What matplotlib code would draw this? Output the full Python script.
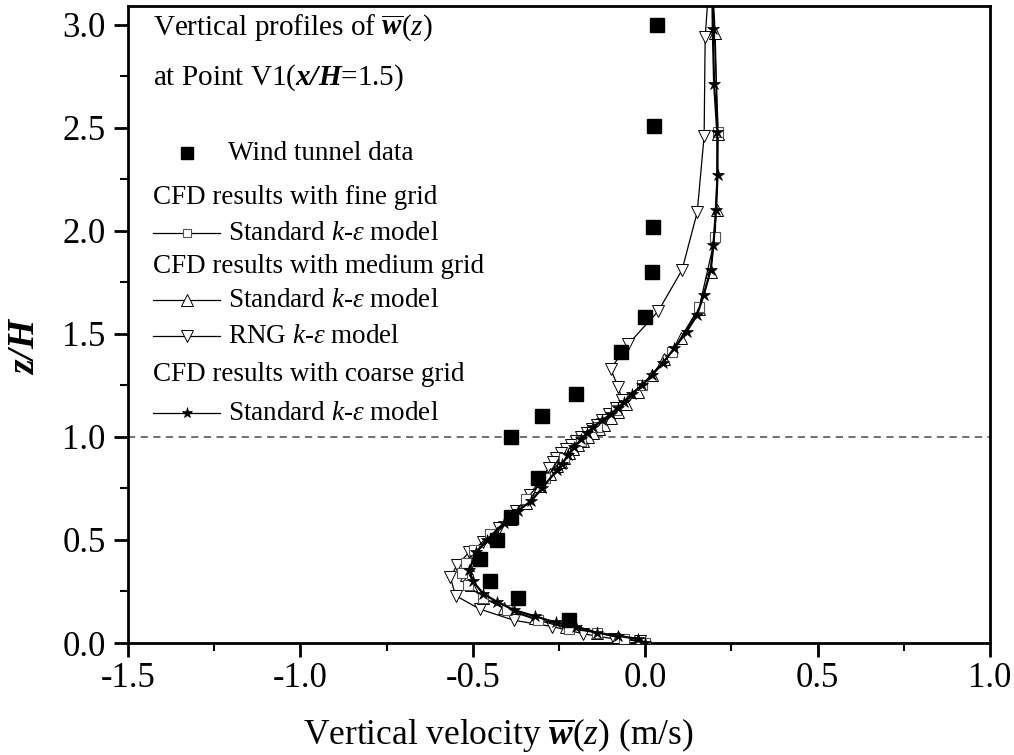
import matplotlib
matplotlib.use("Agg")
import matplotlib.pyplot as plt
from matplotlib.ticker import MultipleLocator, FormatStrFormatter
from matplotlib.lines import Line2D

plt.rcParams.update({
    "font.family": "Liberation Serif",
    "mathtext.fontset": "custom",
    "mathtext.rm": "Liberation Serif",
    "mathtext.it": "Liberation Serif:italic",
    "mathtext.bf": "Liberation Serif:bold",
    "mathtext.bfit": "Liberation Serif:bold:italic",
    "axes.unicode_minus": False,
})

# Wind tunnel measurements (w in m/s, z/H)
w_exp = [0.035, 0.026, 0.023, 0.020, 0.000, -0.070, -0.200, -0.300, -0.390,
         -0.310, -0.390, -0.430, -0.480, -0.450, -0.370, -0.220]
z_exp = [3.00, 2.51, 2.02, 1.80, 1.58, 1.41, 1.21, 1.10, 1.00,
         0.80, 0.61, 0.50, 0.41, 0.30, 0.22, 0.11]

# CFD, fine grid, standard k-epsilon
z_fine = [3.15, 2.48, 1.97, 1.63, 1.41, 1.25, 1.13, 1.05, 0.98, 0.90, 0.80,
          0.70, 0.60, 0.53, 0.45, 0.39, 0.34, 0.28, 0.22, 0.16, 0.11, 0.07,
          0.05, 0.02, 0.00]
w_fine = [0.196, 0.212, 0.203, 0.157, 0.078, -0.010, -0.085, -0.140, -0.185,
          -0.235, -0.290, -0.345, -0.395, -0.450, -0.495, -0.520, -0.530,
          -0.515, -0.470, -0.400, -0.310, -0.220, -0.140, -0.060, 0.000]

# CFD, medium grid, standard k-epsilon
z_med = [3.15, 2.96, 2.47, 2.10, 1.80, 1.62, 1.48, 1.38, 1.30, 1.22, 1.16,
         1.12, 1.09, 1.06, 1.04, 1.02, 1.00, 0.98, 0.96, 0.94, 0.92, 0.90,
         0.88, 0.86, 0.82, 0.76, 0.68, 0.60, 0.52, 0.44, 0.38, 0.33, 0.28,
         0.22, 0.17, 0.12, 0.08, 0.05, 0.03, 0.01]
w_med = [0.197, 0.203, 0.210, 0.207, 0.190, 0.155, 0.105, 0.055, 0.020,
         -0.020, -0.055, -0.080, -0.100, -0.120, -0.135, -0.150, -0.165,
         -0.180, -0.195, -0.210, -0.222, -0.235, -0.245, -0.255, -0.275,
         -0.305, -0.345, -0.390, -0.440, -0.490, -0.515, -0.520, -0.505,
         -0.470, -0.410, -0.320, -0.230, -0.140, -0.080, -0.020]

# CFD, medium grid, RNG k-epsilon
z_rng = [3.15, 2.94, 2.46, 2.09, 1.81, 1.61, 1.45, 1.33, 1.24, 1.18, 1.14,
         1.11, 1.08, 1.06, 1.04, 1.02, 1.00, 0.98, 0.96, 0.94, 0.92, 0.90,
         0.88, 0.85, 0.80, 0.72, 0.64, 0.56, 0.49, 0.44, 0.38, 0.32, 0.23,
         0.165, 0.11, 0.08, 0.045, 0.02, 0.01]
w_rng = [0.183, 0.174, 0.171, 0.151, 0.107, 0.038, -0.049, -0.100, -0.078,
         -0.067, -0.085, -0.105, -0.125, -0.140, -0.155, -0.170, -0.185,
         -0.200, -0.215, -0.230, -0.245, -0.258, -0.268, -0.280, -0.300,
         -0.335, -0.375, -0.425, -0.470, -0.510, -0.545, -0.565, -0.550,
         -0.480, -0.380, -0.270, -0.180, -0.090, -0.015]

# CFD, coarse grid, standard k-epsilon
z_coarse = [3.15, 2.98, 2.71, 2.48, 2.27, 2.10, 1.93, 1.81, 1.69, 1.59, 1.51,
            1.43, 1.36, 1.30, 1.25, 1.21, 1.17, 1.14, 1.11, 1.08, 1.05, 1.02,
            0.99, 0.95, 0.91, 0.87, 0.84, 0.75, 0.69, 0.64, 0.58, 0.50, 0.44,
            0.355, 0.30, 0.24, 0.20, 0.16, 0.13, 0.10, 0.08, 0.05, 0.035,
            0.02, 0.00]
w_coarse = [0.195, 0.196, 0.200, 0.209, 0.210, 0.205, 0.198, 0.190, 0.170,
            0.150, 0.120, 0.085, 0.052, 0.020, -0.010, -0.038, -0.060, -0.080,
            -0.100, -0.125, -0.150, -0.168, -0.185, -0.205, -0.225, -0.240,
            -0.255, -0.300, -0.330, -0.370, -0.410, -0.460, -0.490, -0.510,
            -0.500, -0.470, -0.430, -0.380, -0.320, -0.260, -0.200, -0.140,
            -0.080, -0.020, 0.000]

fig = plt.figure(figsize=(10.14, 7.55), dpi=100)
ax = fig.add_axes([0.1262, 0.1483, 0.8501, 0.8437])

ax.axhline(1.0, color="#666666", lw=1.3, ls=(0, (4, 3)), zorder=1)

style_fine = dict(color="black", lw=0.9, marker="s", ms=7, mfc="white",
                  mec="#555555", mew=0.8)
style_med = dict(color="black", lw=0.9, marker="^", ms=9, mfc="white",
                 mec="black", mew=0.7)
style_rng = dict(color="black", lw=0.9, marker="v", ms=9, mfc="white",
                 mec="black", mew=0.7)
style_coarse = dict(color="black", lw=1.6, marker="*", ms=9, mfc="black",
                    mec="black", mew=0.5)
style_exp = dict(ls="none", marker="s", ms=10, mfc="black", mec="black")

ax.plot(w_rng, z_rng, zorder=2, **style_rng)
ax.plot(w_med, z_med, zorder=3, **style_med)
ax.plot(w_fine, z_fine, zorder=4, **style_fine)
ax.plot(w_coarse, z_coarse, zorder=5, **style_coarse)
ax.plot(w_exp, z_exp, zorder=6, **style_exp)

ax.set_xlim(-1.5, 1.0)
ax.set_ylim(0.0, 3.09)
ax.xaxis.set_major_locator(MultipleLocator(0.5))
ax.xaxis.set_minor_locator(MultipleLocator(0.25))
ax.yaxis.set_major_locator(MultipleLocator(0.5))
ax.yaxis.set_minor_locator(MultipleLocator(0.25))
ax.xaxis.set_major_formatter(FormatStrFormatter("%.1f"))
ax.yaxis.set_major_formatter(FormatStrFormatter("%.1f"))

for s in ax.spines.values():
    s.set_linewidth(2.0)
ax.tick_params(which="major", direction="out", length=10, width=2,
               labelsize=25, top=False, right=False, pad=4)
ax.tick_params(which="minor", direction="out", length=6, width=1.5,
               top=False, right=False)
ax.tick_params(axis="y", which="major", pad=6)

ax.set_xlabel(r"Vertical velocity $\overline{\mathbfit{w}}(z)$ (m/s)",
              fontsize=25.5, va="center")
ax.xaxis.set_label_coords(0.430, -0.144)
ax.set_ylabel(r"$\mathbfit{z/H}$", fontsize=27, va="center", ha="center")
ax.yaxis.set_label_coords(-0.120, 0.466)

# Annotation and key drawn in axes fraction coordinates
tr = ax.transAxes
fs = 19.5
x0, x1, xm, xt = 0.029, 0.107, 0.068, 0.116

ax.text(x0, 0.966, r"Vertical profiles of $\overline{\mathbfit{w}}(z)$",
        transform=tr, fontsize=21, va="center", ha="left")
ax.text(x0, 0.888, r"at Point V1($\mathbfit{x/H}$=1.5)",
        transform=tr, fontsize=21, va="center", ha="left")

def key_row(y, label, style, line=True):
    if line:
        ax.add_line(Line2D([x0, x1], [y, y], transform=tr, color="black",
                           lw=0.9, zorder=7))
    st = dict(style)
    st.pop("color", None)
    st.pop("lw", None)
    st.pop("ls", None)
    ax.add_line(Line2D([xm], [y], transform=tr, ls="none", zorder=8, **st))
    ax.text(xt, y, label, transform=tr, fontsize=fs, va="center", ha="left")

def header(y, label):
    ax.text(x0, y, label, transform=tr, fontsize=fs, va="center", ha="left")

kstd = r"Standard $k$-$\varepsilon$ model"
key_row(0.769, "Wind tunnel data", dict(style_exp, ms=9), line=False)
header(0.700, "CFD results with fine grid")
key_row(0.643, kstd, dict(style_fine, ms=6))
header(0.591, "CFD results with medium grid")
key_row(0.538, kstd, dict(style_med, ms=8))
key_row(0.4815, r"RNG $k$-$\varepsilon$ model", dict(style_rng, ms=8))
header(0.422, "CFD results with coarse grid")
key_row(0.3606, kstd, dict(style_coarse, ms=8))

fig.savefig("out.png", dpi=100)
